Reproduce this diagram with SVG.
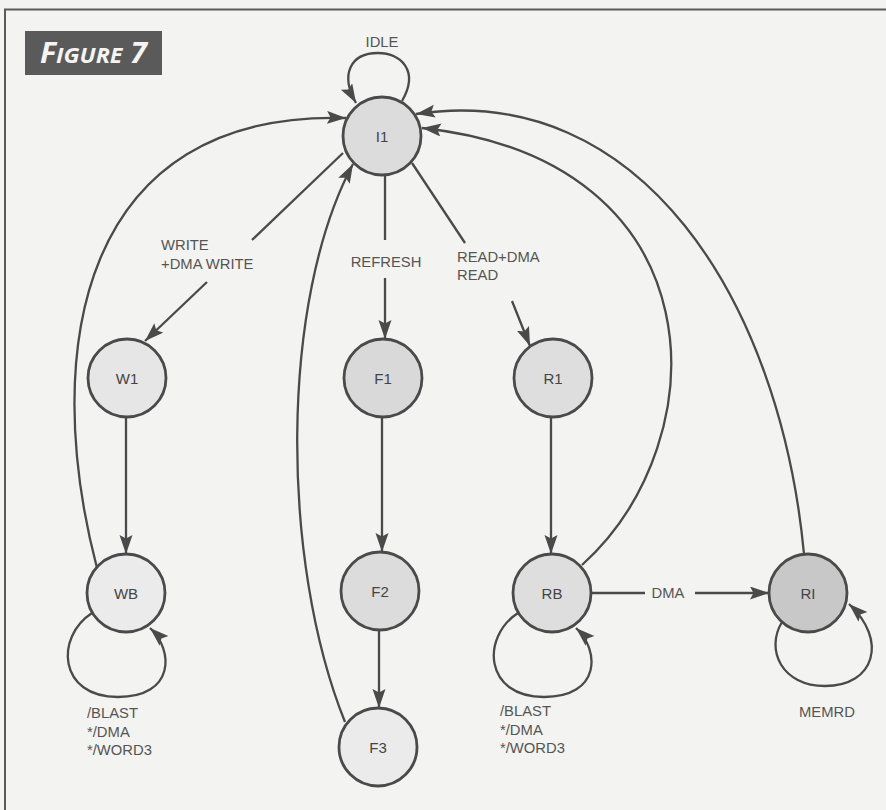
<svg xmlns="http://www.w3.org/2000/svg" width="886" height="810" viewBox="0 0 886 810">
<defs>
<marker id="ah" markerUnits="userSpaceOnUse" markerWidth="20" markerHeight="14" refX="19" refY="6.5" orient="auto">
<path d="M0,0 L19,6.5 L0,13 L3.5,6.5 z" fill="#4a4a4a"/>
</marker>
<style>
.bg{fill:#f3f3f1}
.frame{stroke:#5a5a5a;stroke-width:2;fill:none}
.node{stroke:#4a4a4a;stroke-width:2.8}
.edge{stroke:#4a4a4a;stroke-width:2.3;fill:none}
.arr{marker-end:url(#ah)}
.nl{font-family:"Liberation Sans",Arial,sans-serif;font-size:15px;fill:#444;text-anchor:middle}
.el{font-family:"Liberation Sans",Arial,sans-serif;font-size:14.8px;fill:#555}
</style>
</defs>
<rect class="bg" x="0" y="0" width="886" height="810"/>
<path class="frame" d="M5,810 L5,9.5 L886,9.5"/>
<g id="title">
<rect x="25" y="31" width="137" height="44" fill="#5a5a5a"/>
<text x="40" y="63" font-family="'Open Sans',sans-serif" font-weight="bold" font-style="italic" fill="#f4f4f4" textLength="107" lengthAdjust="spacingAndGlyphs"><tspan font-size="28">F</tspan><tspan font-size="21.5">IGURE</tspan><tspan font-size="28"> 7</tspan></text>
</g>
<g id="connectors">
<path class="edge arr" d="M402,101 C420,70 400,53 378,53 C350,53 340,75 356,103"/>
<text class="el" x="382" y="47" text-anchor="middle">IDLE</text>
<path class="edge" d="M343,153 L252,240"/>
<path class="edge arr" d="M207,282 L145,341"/>
<text class="el" x="161" y="250">WRITE</text>
<text class="el" x="161" y="269">+DMA WRITE</text>
<path class="edge" d="M385,175 L385,240"/>
<path class="edge arr" d="M385,278 L385,339"/>
<text class="el" x="386" y="267" text-anchor="middle">REFRESH</text>
<path class="edge" d="M412,163 L465,243"/>
<path class="edge arr" d="M512,301 L530,346"/>
<text class="el" x="457" y="262">READ+DMA</text>
<text class="el" x="457" y="280">READ</text>
<path class="edge arr" d="M126,417 L126,554"/>
<path class="edge arr" d="M382,417 L382,552"/>
<path class="edge arr" d="M379,630 L379,708"/>
<path class="edge arr" d="M551,417 L551,554"/>
<path class="edge arr" d="M97,568 C40,350 80,110 346,118"/>
<path class="edge arr" d="M345,722 C280,560 280,300 353,164"/>
<path class="edge arr" d="M582,565 C720,440 720,160 422,128"/>
<path class="edge arr" d="M804,554 C780,300 640,80 416,114"/>
<path class="edge" d="M591,593 L645,593"/>
<path class="edge arr" d="M695,593 L769,593"/>
<text class="el" x="668" y="598" text-anchor="middle">DMA</text>
<path class="edge arr" d="M92,613 C55,637 58,697 118,697 C175,697 174,650 150,628"/>
<text class="el" x="87" y="718">/BLAST</text>
<text class="el" x="87" y="737">*/DMA</text>
<text class="el" x="87" y="755">*/WORD3</text>
<path class="edge arr" d="M518,613 C481,637 484,697 544,697 C601,697 600,650 576,628"/>
<text class="el" x="500" y="716">/BLAST</text>
<text class="el" x="500" y="735">*/DMA</text>
<text class="el" x="500" y="753">*/WORD3</text>
<path class="edge arr" d="M782,622 C765,650 782,686 825,686 C875,686 888,640 849,604"/>
<text class="el" x="827" y="717" text-anchor="middle">MEMRD</text>
</g>
<g id="I1"><circle class="node" cx="382" cy="136" r="39" fill="#dcdcdc"/><text class="nl" x="382" y="142">I1</text></g>
<g id="W1"><circle class="node" cx="127" cy="378" r="39" fill="#e6e6e6"/><text class="nl" x="127" y="384">W1</text></g>
<g id="F1"><circle class="node" cx="383" cy="378" r="39" fill="#d9d9d9"/><text class="nl" x="383" y="384">F1</text></g>
<g id="R1"><circle class="node" cx="553" cy="378" r="39" fill="#dedede"/><text class="nl" x="553" y="384">R1</text></g>
<g id="WB"><circle class="node" cx="126" cy="593" r="39" fill="#ebebeb"/><text class="nl" x="126" y="599">WB</text></g>
<g id="F2"><circle class="node" cx="380" cy="591" r="39" fill="#dcdcdc"/><text class="nl" x="380" y="597">F2</text></g>
<g id="F3"><circle class="node" cx="378" cy="747" r="39" fill="#ebebeb"/><text class="nl" x="378" y="753">F3</text></g>
<g id="RB"><circle class="node" cx="552" cy="593" r="39" fill="#dedede"/><text class="nl" x="552" y="599">RB</text></g>
<g id="RI"><circle class="node" cx="808" cy="593" r="39" fill="#c8c8c8"/><text class="nl" x="808" y="599">RI</text></g>
</svg>
